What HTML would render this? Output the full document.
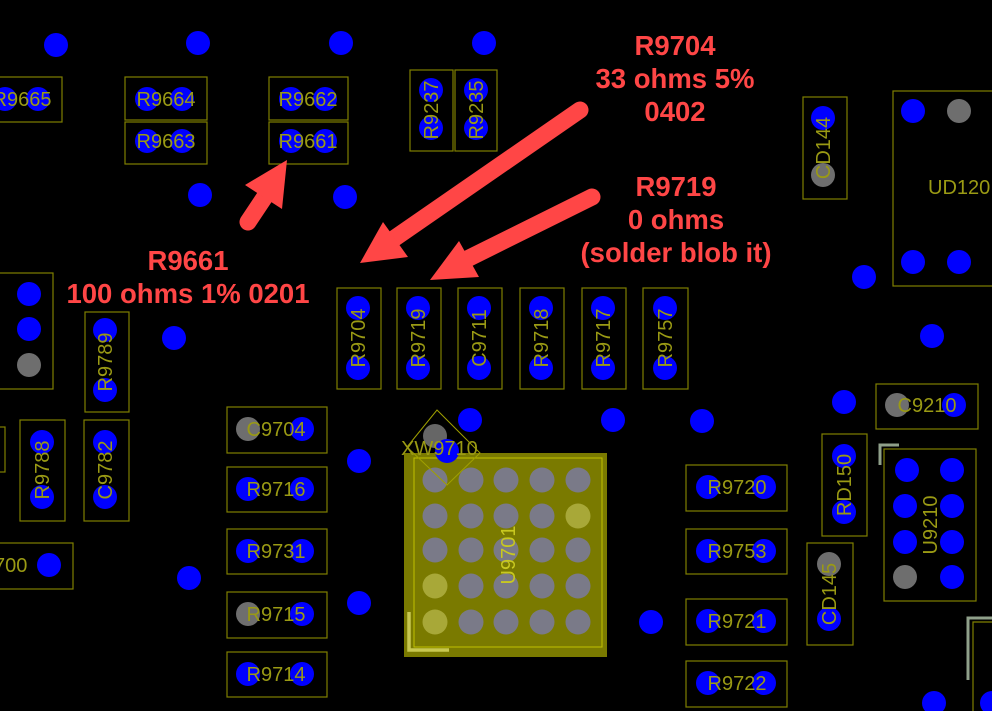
<!DOCTYPE html>
<html><head><meta charset="utf-8"><style>
html,body{margin:0;padding:0;background:#000;}
svg{display:block}
.o{fill:none;stroke:#7f7f00;stroke-width:1.2}
.b{fill:#0000ff}
.g{fill:#6e6e6e}
.t{font-family:"Liberation Sans",sans-serif;font-size:20px;fill:#9a9a14}
.r{font-family:"Liberation Sans",sans-serif;font-size:27.5px;font-weight:bold;fill:#ff4646;text-anchor:middle}
</style></head><body>
<svg width="992" height="711" viewBox="0 0 992 711" xmlns="http://www.w3.org/2000/svg">
<rect width="992" height="711" fill="#000"/>
<g class="b">
<circle cx="56" cy="45" r="12"/><circle cx="198" cy="43" r="12"/><circle cx="341" cy="43" r="12"/><circle cx="484" cy="43" r="12"/>
<circle cx="200" cy="195" r="12"/><circle cx="345" cy="197" r="12"/><circle cx="174" cy="338" r="12"/>
<circle cx="864" cy="277" r="12"/><circle cx="932" cy="336" r="12"/><circle cx="844" cy="402" r="12"/>
<circle cx="470" cy="420" r="12"/><circle cx="613" cy="420" r="12"/><circle cx="702" cy="421" r="12"/>
<circle cx="359" cy="461" r="12"/><circle cx="189" cy="578" r="12"/><circle cx="359" cy="603" r="12"/>
<circle cx="651" cy="622" r="12"/><circle cx="934" cy="703" r="12"/><circle cx="992" cy="703" r="12"/>
</g>
<rect class="o" x="-5" y="77" width="67" height="45"/>
<circle class="b" cx="5" cy="99" r="12"/><circle class="b" cx="38" cy="99" r="12"/>
<text class="t" x="22" y="106" text-anchor="middle">R9665</text>

<rect class="o" x="125" y="77" width="82" height="43"/><circle class="b" cx="147" cy="99" r="12"/><circle class="b" cx="182" cy="99" r="12"/>
<text class="t" x="166" y="106" text-anchor="middle">R9664</text>
<rect class="o" x="125" y="122" width="82" height="42"/><circle class="b" cx="147" cy="141" r="12"/><circle class="b" cx="182" cy="141" r="12"/>
<text class="t" x="166" y="148" text-anchor="middle">R9663</text>
<rect class="o" x="269" y="77" width="79" height="43"/><circle class="b" cx="291" cy="99" r="12"/><circle class="b" cx="325" cy="99" r="12"/>
<text class="t" x="308" y="106" text-anchor="middle">R9662</text>
<rect class="o" x="269" y="122" width="79" height="42"/><circle class="b" cx="291" cy="141" r="12"/><circle class="b" cx="325" cy="141" r="12"/>
<text class="t" x="308" y="148" text-anchor="middle">R9661</text>

<rect class="o" x="410" y="70" width="43" height="81"/><circle class="b" cx="431" cy="90" r="12"/><circle class="b" cx="431" cy="128" r="12"/>
<text class="t" transform="translate(438,110) rotate(-90)" text-anchor="middle">R9237</text>
<rect class="o" x="455" y="70" width="42" height="81"/><circle class="b" cx="476" cy="90" r="12"/><circle class="b" cx="476" cy="128" r="12"/>
<text class="t" transform="translate(483,110) rotate(-90)" text-anchor="middle">R9235</text>

<rect class="o" x="803" y="97" width="44" height="102"/><circle class="b" cx="823" cy="118" r="12"/><circle class="g" cx="823" cy="175" r="12"/>
<text class="t" transform="translate(830,148) rotate(-90)" text-anchor="middle">CD144</text>
<rect class="o" x="893" y="91" width="110" height="195"/>
<circle class="b" cx="913" cy="111" r="12"/><circle class="g" cx="959" cy="111" r="12"/>
<circle class="b" cx="913" cy="262" r="12"/><circle class="b" cx="959" cy="262" r="12"/>
<text class="t" x="928" y="194">UD120</text>

<rect class="o" x="-5" y="273" width="58" height="116"/>
<circle class="b" cx="29" cy="294" r="12"/><circle class="b" cx="29" cy="329" r="12"/><circle class="g" cx="29" cy="365" r="12"/>
<rect class="o" x="85" y="312" width="44" height="100"/><circle class="b" cx="105" cy="330" r="12"/><circle class="b" cx="105" cy="390" r="12"/>
<text class="t" transform="translate(112,362) rotate(-90)" text-anchor="middle">R9789</text>

<g>
<rect class="o" x="337" y="288" width="44" height="101"/><circle class="b" cx="358" cy="308" r="12"/><circle class="b" cx="358" cy="368" r="12"/>
<text class="t" transform="translate(365,338) rotate(-90)" text-anchor="middle">R9704</text>
<rect class="o" x="397" y="288" width="44" height="101"/><circle class="b" cx="418" cy="308" r="12"/><circle class="b" cx="418" cy="368" r="12"/>
<text class="t" transform="translate(425,338) rotate(-90)" text-anchor="middle">R9719</text>
<rect class="o" x="458" y="288" width="44" height="101"/><circle class="b" cx="479" cy="308" r="12"/><circle class="b" cx="479" cy="368" r="12"/>
<text class="t" transform="translate(486,338) rotate(-90)" text-anchor="middle">C9711</text>
<rect class="o" x="520" y="288" width="44" height="101"/><circle class="b" cx="541" cy="308" r="12"/><circle class="b" cx="541" cy="368" r="12"/>
<text class="t" transform="translate(548,338) rotate(-90)" text-anchor="middle">R9718</text>
<rect class="o" x="582" y="288" width="44" height="101"/><circle class="b" cx="603" cy="308" r="12"/><circle class="b" cx="603" cy="368" r="12"/>
<text class="t" transform="translate(610,338) rotate(-90)" text-anchor="middle">R9717</text>
<rect class="o" x="643" y="288" width="45" height="101"/><circle class="b" cx="665" cy="308" r="12"/><circle class="b" cx="665" cy="368" r="12"/>
<text class="t" transform="translate(672,338) rotate(-90)" text-anchor="middle">R9757</text>
</g>

<rect class="o" x="-5" y="427" width="10" height="45"/>
<rect class="o" x="20" y="420" width="45" height="101"/><circle class="b" cx="42" cy="442" r="12"/><circle class="b" cx="42" cy="497" r="12"/>
<text class="t" transform="translate(49,470) rotate(-90)" text-anchor="middle">R9788</text>
<rect class="o" x="84" y="420" width="45" height="101"/><circle class="b" cx="105" cy="442" r="12"/><circle class="b" cx="105" cy="497" r="12"/>
<text class="t" transform="translate(112,470) rotate(-90)" text-anchor="middle">C9782</text>
<rect class="o" x="-5" y="543" width="78" height="46"/><circle class="b" cx="49" cy="565" r="12"/>
<text class="t" x="-6" y="572">700</text>

<rect class="o" x="227" y="407" width="100" height="46"/><circle class="g" cx="248" cy="429" r="12"/><circle class="b" cx="302" cy="429" r="12"/>
<text class="t" x="276" y="436" text-anchor="middle">C9704</text>
<rect class="o" x="227" y="467" width="100" height="45"/><circle class="b" cx="248" cy="489" r="12"/><circle class="b" cx="302" cy="489" r="12"/>
<text class="t" x="276" y="496" text-anchor="middle">R9716</text>
<rect class="o" x="227" y="529" width="100" height="45"/><circle class="b" cx="248" cy="551" r="12"/><circle class="b" cx="302" cy="551" r="12"/>
<text class="t" x="276" y="558" text-anchor="middle">R9731</text>
<rect class="o" x="227" y="592" width="100" height="46"/><circle class="g" cx="248" cy="614" r="12"/><circle class="b" cx="302" cy="614" r="12"/>
<text class="t" x="276" y="621" text-anchor="middle">R9715</text>
<rect class="o" x="227" y="652" width="100" height="45"/><circle class="b" cx="248" cy="674" r="12"/><circle class="b" cx="302" cy="674" r="12"/>
<text class="t" x="276" y="681" text-anchor="middle">R9714</text>

<rect x="404" y="453" width="203" height="204" fill="#7a7a00"/>
<rect x="414" y="458" width="188" height="189" fill="none" stroke="#c0c000" stroke-width="1"/>
<g fill="#7a7a88">
<circle cx="435" cy="480" r="12.5"/><circle cx="471" cy="480" r="12.5"/><circle cx="506" cy="480" r="12.5"/><circle cx="542" cy="480" r="12.5"/><circle cx="578" cy="480" r="12.5"/>
<circle cx="435" cy="516" r="12.5"/><circle cx="471" cy="516" r="12.5"/><circle cx="506" cy="516" r="12.5"/><circle cx="542" cy="516" r="12.5"/>
<circle cx="435" cy="550" r="12.5"/><circle cx="471" cy="550" r="12.5"/><circle cx="506" cy="550" r="12.5"/><circle cx="542" cy="550" r="12.5"/><circle cx="578" cy="550" r="12.5"/>
<circle cx="471" cy="586" r="12.5"/><circle cx="506" cy="586" r="12.5"/><circle cx="542" cy="586" r="12.5"/><circle cx="578" cy="586" r="12.5"/>
<circle cx="471" cy="622" r="12.5"/><circle cx="506" cy="622" r="12.5"/><circle cx="542" cy="622" r="12.5"/><circle cx="578" cy="622" r="12.5"/>
</g>
<g fill="#a8a838"><circle cx="578" cy="516" r="12.5"/><circle cx="435" cy="586" r="12.5"/><circle cx="435" cy="622" r="12.5"/></g>
<path d="M409 612 V650 H449" fill="none" stroke="#c8c850" stroke-width="3.5"/>
<text transform="translate(515,555) rotate(-90)" text-anchor="middle" style="font-family:'Liberation Sans',sans-serif;font-size:20px;fill:#c8c820">U9701</text>
<circle cx="435" cy="436" r="12" fill="#666"/>
<circle cx="447" cy="451" r="12" fill="#0000ff"/>
<polygon points="437,410 480,453 447,485 407,447" fill="none" stroke="#a0a000" stroke-width="1"/>
<text class="t" x="401" y="455" style="font-size:20px">XW9710</text>

<rect class="o" x="686" y="465" width="101" height="46"/><circle class="b" cx="708" cy="487" r="12"/><circle class="b" cx="764" cy="487" r="12"/>
<text class="t" x="737" y="494" text-anchor="middle">R9720</text>
<rect class="o" x="686" y="529" width="101" height="45"/><circle class="b" cx="708" cy="551" r="12"/><circle class="b" cx="764" cy="551" r="12"/>
<text class="t" x="737" y="558" text-anchor="middle">R9753</text>
<rect class="o" x="686" y="599" width="101" height="46"/><circle class="b" cx="708" cy="621" r="12"/><circle class="b" cx="764" cy="621" r="12"/>
<text class="t" x="737" y="628" text-anchor="middle">R9721</text>
<rect class="o" x="686" y="661" width="101" height="46"/><circle class="b" cx="708" cy="683" r="12"/><circle class="b" cx="764" cy="683" r="12"/>
<text class="t" x="737" y="690" text-anchor="middle">R9722</text>

<rect class="o" x="822" y="434" width="45" height="102"/><circle class="b" cx="844" cy="456" r="12"/><circle class="b" cx="844" cy="512" r="12"/>
<text class="t" transform="translate(851,485) rotate(-90)" text-anchor="middle">RD150</text>
<rect class="o" x="807" y="543" width="46" height="102"/><circle class="g" cx="829" cy="564" r="12"/><circle class="b" cx="829" cy="619" r="12"/>
<text class="t" transform="translate(836,594) rotate(-90)" text-anchor="middle">CD145</text>
<rect class="o" x="876" y="384" width="102" height="45"/><circle class="g" cx="897" cy="405" r="12"/><circle class="b" cx="954" cy="405" r="12"/>
<text class="t" x="927" y="412" text-anchor="middle">C9210</text>
<rect class="o" x="884" y="449" width="92" height="152"/>
<circle class="b" cx="907" cy="470" r="12"/><circle class="b" cx="952" cy="470" r="12"/>
<circle class="b" cx="905" cy="506" r="12"/><circle class="b" cx="952" cy="506" r="12"/>
<circle class="b" cx="905" cy="542" r="12"/><circle class="b" cx="952" cy="542" r="12"/>
<circle class="g" cx="905" cy="577" r="12"/><circle class="b" cx="952" cy="577" r="12"/>
<text class="t" transform="translate(937,525) rotate(-90)" text-anchor="middle">U9210</text>
<path d="M880 465 V445 H899" fill="none" stroke="#8fa08a" stroke-width="3"/>
<path d="M968 680 V618 H992" fill="none" stroke="#8fa08a" stroke-width="3"/>
<path d="M973 711 V622 H992" fill="none" stroke="#7f7f00" stroke-width="1.2"/>

<g fill="#ff4646" stroke="#ff4646">
<line x1="580" y1="110" x2="392" y2="240" stroke-width="17" stroke-linecap="round"/>
<polygon points="360,263 383,222 408,257" stroke="none"/>
<line x1="592" y1="197" x2="455" y2="265" stroke-width="17" stroke-linecap="round"/>
<polygon points="430,280 459,241 479,277" stroke="none"/>
<line x1="248" y1="222" x2="268" y2="192" stroke-width="17" stroke-linecap="round"/>
<polygon points="287,160 245,185 282,209" stroke="none"/>
</g>
<text class="r" x="675" y="55">R9704</text>
<text class="r" x="675" y="88">33 ohms 5%</text>
<text class="r" x="675" y="121">0402</text>
<text class="r" x="676" y="196">R9719</text>
<text class="r" x="676" y="229">0 ohms</text>
<text class="r" x="676" y="262">(solder blob it)</text>
<text class="r" x="188" y="270">R9661</text>
<text class="r" x="188" y="303">100 ohms 1% 0201</text>
</svg>
</body></html>
